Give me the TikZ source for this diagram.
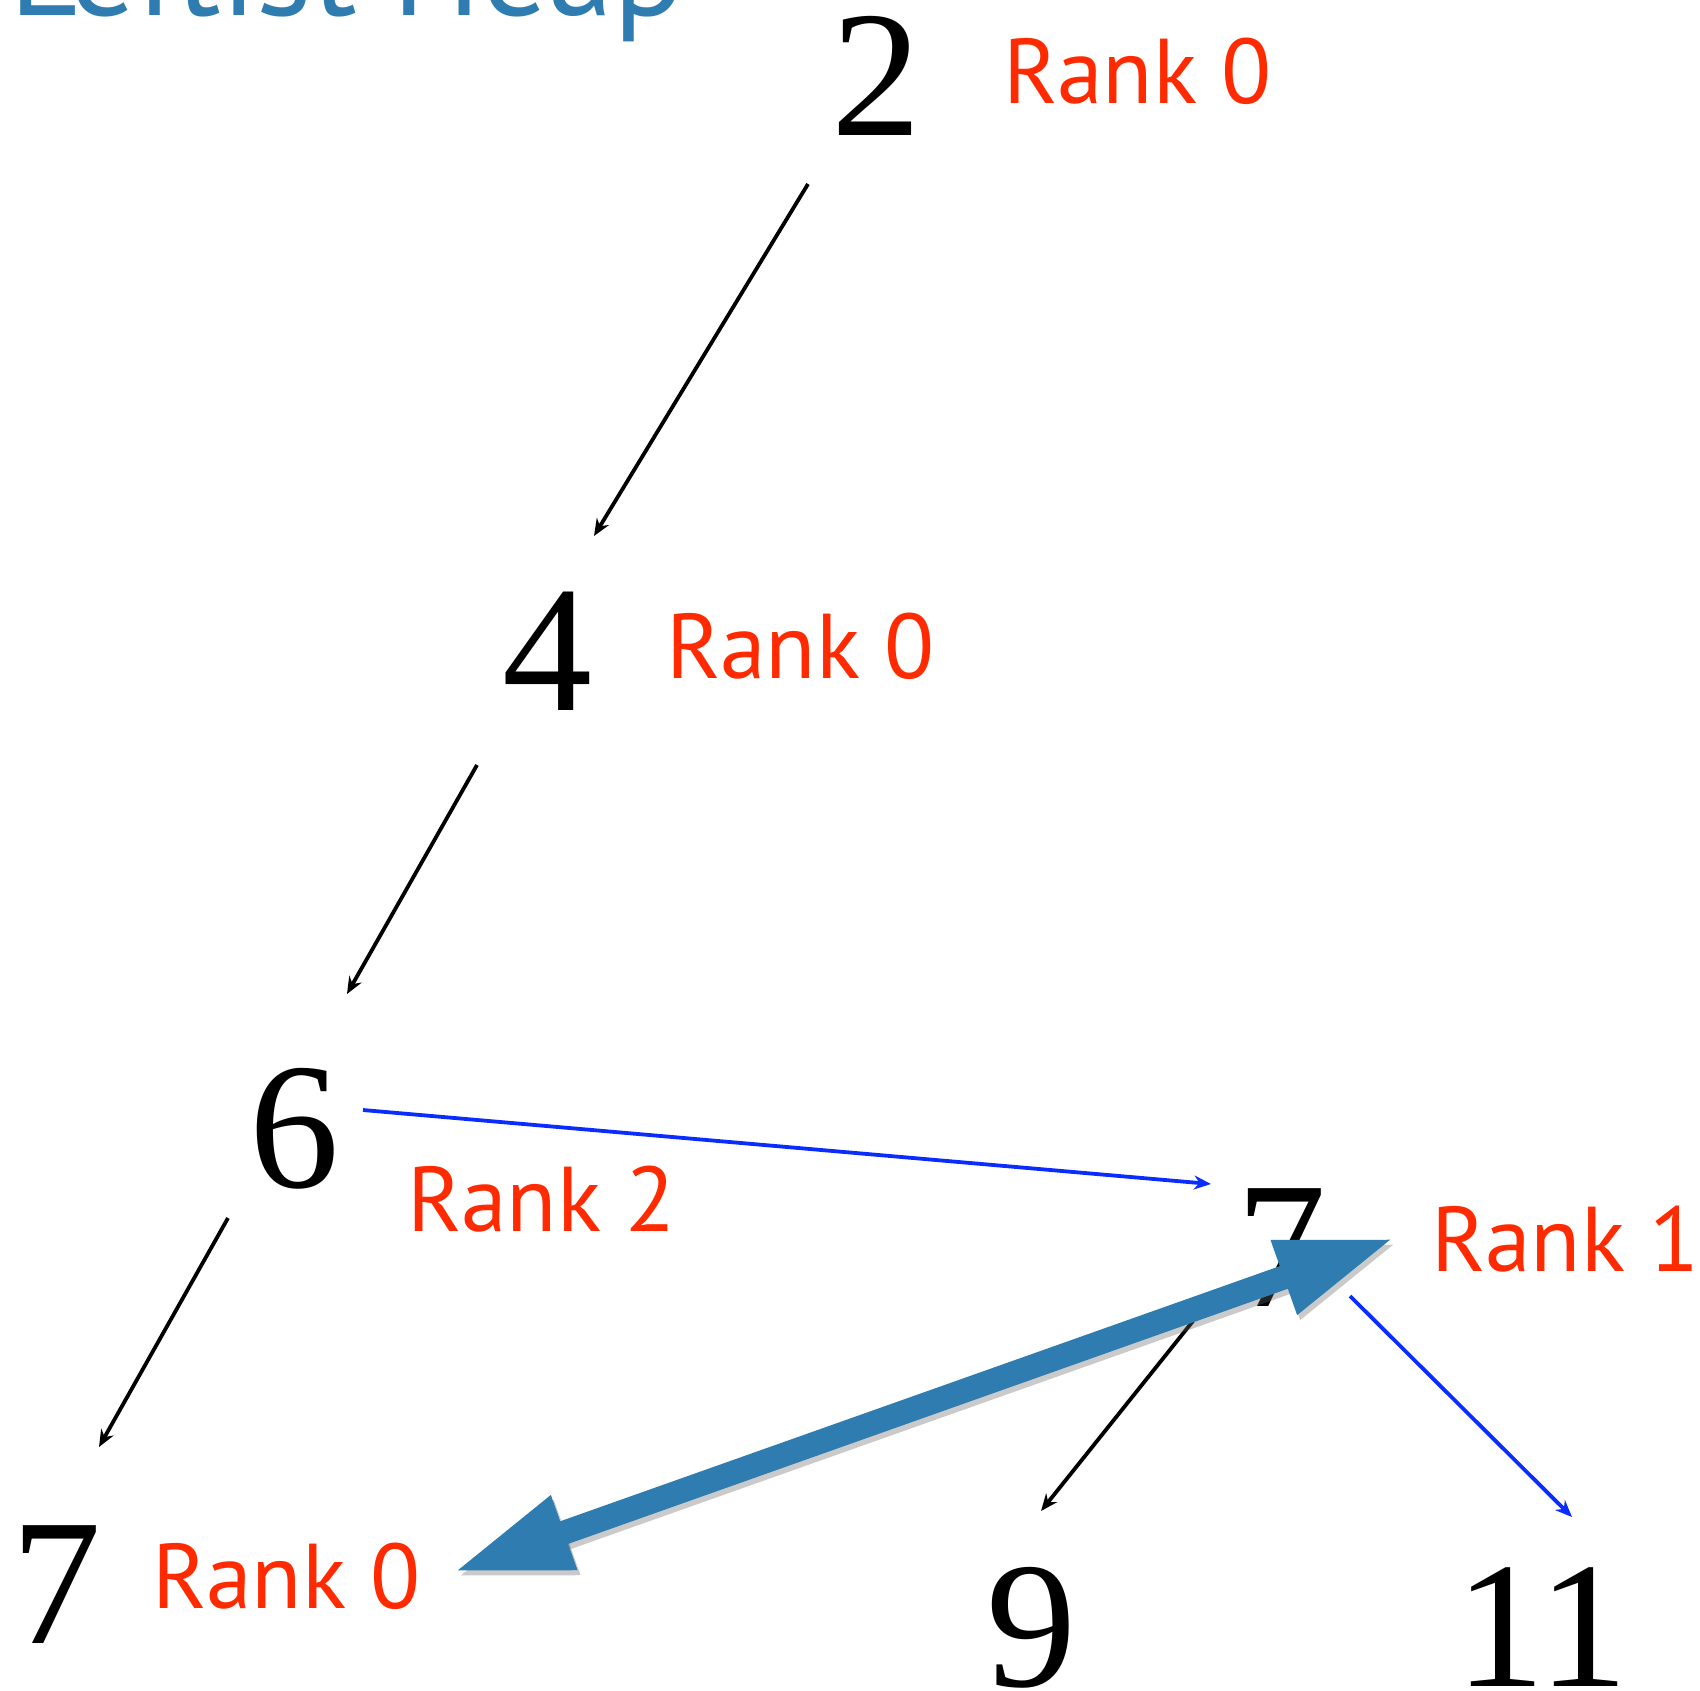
\documentclass[tikz,border=0pt]{standalone}
\usepackage{fontspec}
\usetikzlibrary{arrows.meta}
\newfontfamily\numfont{Liberation Serif}
\newfontfamily\labfont{PT Sans}
\definecolor{rankred}{HTML}{FF2A00}
\definecolor{linkblue}{HTML}{0A2CFF}
\definecolor{steel}{HTML}{2F7DB0}
\tikzset{
  num/.style={inner sep=0pt, anchor=base, font=\numfont\fontsize{180}{180}\selectfont},
  ranklab/.style={inner sep=0pt, anchor=base west, text=rankred, font=\labfont\fontsize{92}{92}\selectfont},
  blackedge/.style={draw=black, line width=3.8pt, -{Stealth[length=17pt,width=14pt]}},
  blueedge/.style={draw=linkblue, line width=3.8pt, -{Stealth[length=17pt,width=14pt]}},
  bigarrow/.style={line width=24pt, {Triangle[length=118pt,width=72pt]}-{Triangle[length=118pt,width=72pt]}}
}
\begin{document}
\begin{tikzpicture}[x=1pt,y=-1pt]
\useasboundingbox (0,0) rectangle (1700,1690);
\node[inner sep=0pt, anchor=base west, text=steel, font=\labfont\fontsize{132}{132}\selectfont] (title) at (9,15) {Leftist Heap};
% numbers
\node[num] (n2) at (876,135) {2};
\node[num] (n4) at (547,710) {4};
\node[num] (n6) at (294,1187) {6};
\node[num] (n7r) at (1281,1306) {7};
\node[num] (n7l) at (56,1643) {7};
\node[num] (n9) at (1031,1686) {9};
\node[num] (n11) at (1542,1686) {11};
% rank labels
\node[ranklab] (r2) at (1003,103) {Rank 0};
\node[ranklab] (r4) at (666,678) {Rank 0};
\node[ranklab] (r6) at (407,1231) {Rank 2};
\node[ranklab] (r7r) at (1431,1271) {Rank 1};
\node[ranklab] (r7l) at (152,1608) {Rank 0};
% connector ends
\coordinate (a2s) at (808,184); \coordinate (a2e) at (594,536);
\coordinate (a4s) at (477,765); \coordinate (a4e) at (347,994);
\coordinate (a6s) at (228,1218); \coordinate (a6e) at (99,1447);
\coordinate (b6s) at (363,1110); \coordinate (b6e) at (1211,1184);
\coordinate (a7s) at (1193,1321); \coordinate (a7e) at (1041,1511);
\coordinate (b7s) at (1350,1296); \coordinate (b7e) at (1572,1517);
\coordinate (bigL) at (453,1572); \coordinate (bigR) at (1395,1238);
\draw[blackedge] (a2s) -- (a2e);
\draw[blackedge] (a4s) -- (a4e);
\draw[blackedge] (a6s) -- (a6e);
\draw[blueedge] (b6s) -- (b6e);
\draw[blackedge] (a7s) -- (a7e);
\draw[blueedge] (b7s) -- (b7e);
% big double arrow with shadow
\draw[bigarrow, draw=black!60, fill=black!60, opacity=0.35, transform canvas={shift={(3pt,-5pt)}}] (bigL) -- (bigR);
\draw[bigarrow, draw=steel, fill=steel] (bigL) -- (bigR);
\end{tikzpicture}
\end{document}
